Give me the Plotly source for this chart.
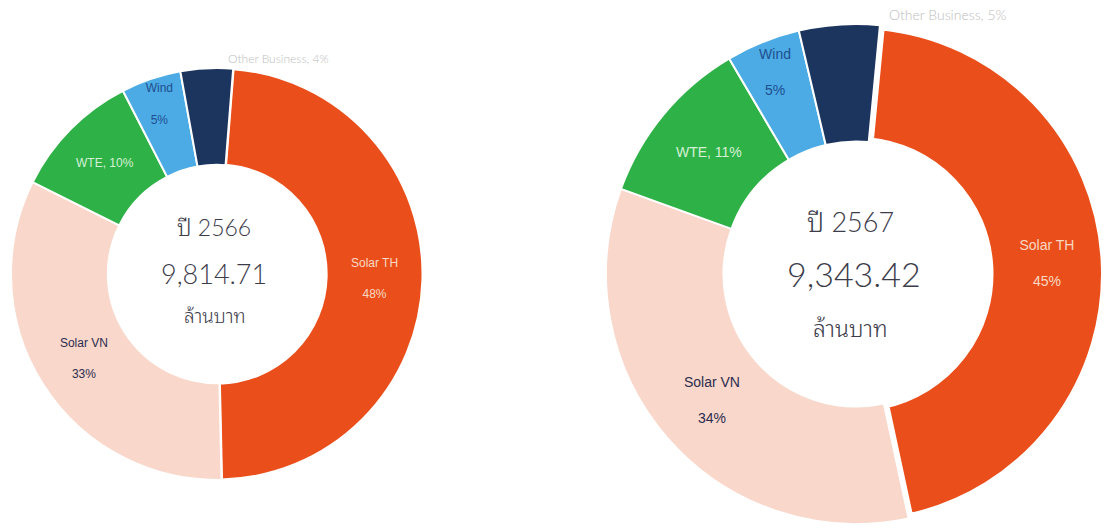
import plotly.graph_objects as go

categories = ["Solar TH", "Solar VN", "WTE", "Wind", "Other Business"]
values_2566 = [48.4, 32.7, 10.1, 4.7, 4.1]
values_2567 = [45.1, 33.9, 11.0, 4.8, 5.2]
year_labels = ["ปี 2566", "ปี 2567"]
totals = ["9,814.71", "9,343.42"]
unit = "ล้านบาท"

colors = ["#EA4F1B", "#F9D7CA", "#2EB247", "#4CABE5", "#1C355F"]
text_colors = ["#F9D9C4", "#2B2D4F", "#D6F0D6", "#1F4F8F", "#BDBDBD"]
templates = ["%{label}<br><br>%{percent:.0%}", "%{label}<br><br>%{percent:.0%}",
             "%{label}, %{percent:.0%}", "%{label}<br><br>%{percent:.0%}", ""]
positions = ["inside", "inside", "inside", "inside", "none"]

W, H = 1106, 531


def px(x):
    return x / W


def py(y):
    return 1 - y / H


fig = go.Figure()
fig.add_trace(go.Pie(
    labels=categories, values=values_2566, hole=0.53, sort=False,
    direction="clockwise", rotation=4.5,
    marker=dict(colors=colors, line=dict(color="#FFFFFF", width=[3, 2, 2, 2, 2])),
    texttemplate=templates, textposition=positions,
    insidetextorientation="horizontal",
    textfont=dict(family="Liberation Sans, Arial, sans-serif", size=12, color=text_colors),
    domain=dict(x=[px(11), px(423)], y=[py(480), py(68)]),
    showlegend=False, hoverinfo="label+percent",
))
fig.add_trace(go.Pie(
    labels=categories, values=values_2567, hole=0.53, sort=False,
    direction="clockwise", rotation=5.5,
    marker=dict(colors=colors, line=dict(color="#FFFFFF", width=[10, 2, 2, 2, 2])),
    texttemplate=templates, textposition=positions,
    insidetextorientation="horizontal",
    textfont=dict(family="Liberation Sans, Arial, sans-serif", size=14, color=text_colors),
    domain=dict(x=[px(606), px(1106)], y=[py(524), py(24)]),
    showlegend=False, hoverinfo="label+percent",
))

center_font = "Lato, 'Noto Sans Thai Looped', 'Noto Sans Thai', Loma, Garuda, 'Noto Sans', sans-serif"
cc = "#3C3C4A"

ann = []
# left chart center text
ann.append(dict(x=px(214), y=py(227), text=year_labels[0], font=dict(size=23, color=cc, family=center_font, weight=300)))
ann.append(dict(x=px(214), y=py(273), text=totals[0], font=dict(size=27, color=cc, family=center_font, weight=300)))
ann.append(dict(x=px(215), y=py(315), text=unit, font=dict(size=19, color=cc, family=center_font, weight=300)))
# right chart center text
ann.append(dict(x=px(851), y=py(222), text=year_labels[1], font=dict(size=27, color=cc, family=center_font, weight=300)))
ann.append(dict(x=px(854), y=py(273), text=totals[1], font=dict(size=34, color=cc, family=center_font, weight=300)))
ann.append(dict(x=px(851), y=py(328), text=unit, font=dict(size=23, color=cc, family=center_font, weight=300)))

# outside labels for "Other Business"
for vals, (x, y), size in [(values_2566, (278, 58), 12), (values_2567, (948, 15), 14)]:
    pct = round(100 * vals[4] / sum(vals))
    ann.append(dict(x=px(x), y=py(y), text=f"{categories[4]}, {pct}%",
                    font=dict(size=size, color="#BDBDBD", family="Lato, Liberation Sans, sans-serif", weight=300)))

for a in ann:
    a.update(xref="paper", yref="paper", showarrow=False, xanchor="center", yanchor="middle")

fig.update_layout(
    width=W, height=H,
    margin=dict(l=0, r=0, t=0, b=0),
    paper_bgcolor="#FFFFFF", plot_bgcolor="#FFFFFF",
    annotations=ann,
)
fig.write_html("out.html", config={"displayModeBar": False},
               post_script="document.body.style.margin='0';")
